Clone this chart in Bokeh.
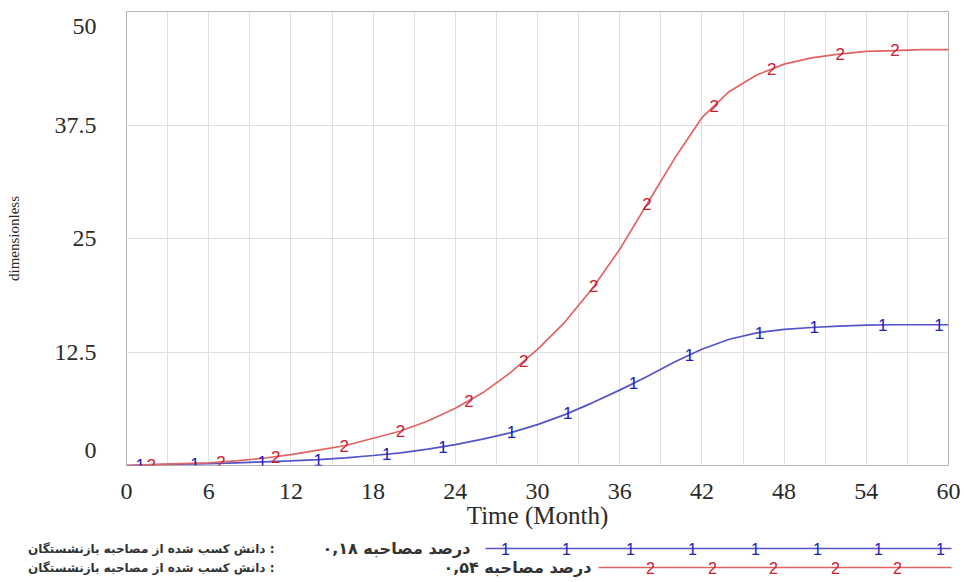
import numpy as np
from bokeh.plotting import figure
from bokeh.models import Range1d, FixedTicker
from bokeh.core.properties import value
from bokeh.embed import file_html
from bokeh.resources import INLINE

# ---------------- data ----------------
months = list(range(0, 61, 2))
knowledge_018 = [0.0, 0.1, 0.15, 0.2, 0.3, 0.4, 0.5, 0.65, 0.85, 1.1, 1.4, 1.8, 2.3, 2.9,
                 3.6, 4.5, 5.6, 6.9, 8.3, 9.8, 11.4, 12.8, 13.9, 14.6, 15.0, 15.2, 15.35,
                 15.45, 15.5, 15.5, 15.5]
knowledge_054 = [0.0, 0.1, 0.2, 0.3, 0.5, 0.8, 1.2, 1.7, 2.2, 3.0, 3.8, 4.9, 6.3, 8.0,
                 10.2, 12.8, 15.8, 19.5, 23.8, 28.8, 33.8, 38.3, 41.2, 43.0, 44.2, 44.9,
                 45.3, 45.6, 45.7, 45.8, 45.8]
marker_t_018 = [1.0, 5.0, 9.9, 14.0, 19.0, 23.1, 28.1, 32.2, 37.0, 41.1, 46.2, 50.2, 55.2, 59.3]
marker_t_054 = [1.8, 6.9, 10.9, 15.9, 20.0, 25.0, 29.0, 34.1, 38.0, 42.9, 47.1, 52.1, 56.1]
x_ticks = [0, 6, 12, 18, 24, 30, 36, 42, 48, 54, 60]
x_grid_ticks = list(range(0, 61, 3))
y_ticks = [0, 12.5, 25, 37.5, 50]
y_tick_labels = ["0", "12.5", "25", "37.5", "50"]
series_labels = ["درصد مصاحبه ۰,۱۸", "درصد مصاحبه ۰,۵۴"]
variable_name = "دانش کسب شده از مصاحبه بازنشستگان :"
series_marks = ["1", "2"]

BLUE_LINE = "#5454c8"
BLUE_TXT = "#2020b8"
RED_LINE = "#e06464"
RED_TXT = "#cc2030"
SERIF = "Liberation Serif"
TXT = "#2a2a2a"

# ---------------- main chart ----------------
p = figure(width=964, height=538, x_range=Range1d(0, 60), y_range=Range1d(0, 50),
           output_backend="svg", toolbar_location=None,
           min_border_left=126, min_border_right=16, min_border_top=11, min_border_bottom=73)
p.background_fill_color = "white"
p.border_fill_color = "white"
p.outline_line_color = "#b4b4b4"
p.outline_line_width = 1

p.xgrid.ticker = FixedTicker(ticks=x_grid_ticks)
p.ygrid.ticker = FixedTicker(ticks=y_ticks)
p.grid.grid_line_color = "#e0e0e0"
p.grid.grid_line_width = 1

# the value-axis end labels sit a little inside the frame, as in the reference
end_shift = 1.7  # in data units (about 15 px)
label_pos = [y_ticks[0] + end_shift] + y_ticks[1:-1] + [y_ticks[-1] - end_shift]
p.xaxis.ticker = FixedTicker(ticks=x_ticks)
p.yaxis.ticker = FixedTicker(ticks=label_pos)
p.yaxis.major_label_overrides = {pos: lab for pos, lab in zip(label_pos, y_tick_labels)}

for ax in (p.xaxis, p.yaxis):
    ax.axis_line_color = None
    ax.major_tick_line_color = None
    ax.minor_tick_line_color = None
    ax.major_label_text_font = SERIF
    ax.major_label_text_font_size = "24px"
    ax.major_label_text_color = TXT
    ax.axis_label_text_font = SERIF
    ax.axis_label_text_font_style = "normal"
    ax.axis_label_text_color = TXT

p.xaxis.major_label_standoff = 12
p.xaxis.axis_label = "Time (Month)"
p.xaxis.axis_label_text_font_size = "25px"
p.xaxis.axis_label_standoff = 0

p.yaxis.major_label_standoff = 24
p.yaxis.axis_label = "dimensionless"
p.yaxis.axis_label_text_font_size = "15px"
p.yaxis.axis_label_standoff = 30

p.line(months, knowledge_018, line_color=BLUE_LINE, line_width=1.7)
p.line(months, knowledge_054, line_color=RED_LINE, line_width=1.7)

my18 = np.interp(marker_t_018, months, knowledge_018)
my54 = np.interp(marker_t_054, months, knowledge_054)
p.text(x=marker_t_018, y=list(my18), text=[series_marks[0]] * len(marker_t_018),
       text_color=BLUE_TXT, text_font=value("Liberation Sans"), text_font_size="17px",
       text_align="center", text_baseline="middle")
p.text(x=marker_t_054, y=list(my54), text=[series_marks[1]] * len(marker_t_054),
       text_color=RED_TXT, text_font=value("Liberation Sans"), text_font_size="17px",
       text_align="center", text_baseline="middle")

# ---------------- legend strip ----------------
lg = figure(width=964, height=44, x_range=Range1d(0, 964), y_range=Range1d(0, 44),
            output_backend="svg", toolbar_location=None, x_axis_type=None, y_axis_type=None,
            min_border_left=0, min_border_right=0, min_border_top=0, min_border_bottom=0)
lg.grid.visible = False
lg.outline_line_color = None
lg.background_fill_color = "white"
lg.border_fill_color = "white"

row_y = [34, 15]
lg.text(x=[274, 274], y=row_y, text=[variable_name, variable_name], text_color="#333333",
        text_font=value("DejaVu Sans"), text_font_size="12px", text_font_style="bold",
        text_align="right", text_baseline="middle")
lg.text(x=[470, 591], y=row_y, text=series_labels, text_color="#333333",
        text_font=value("DejaVu Sans"), text_font_size="16px", text_font_style="bold",
        text_align="right", text_baseline="middle")

lg.segment(x0=[485], y0=[row_y[0]], x1=[951], y1=[row_y[0]], line_color=BLUE_LINE, line_width=1.7)
lg.segment(x0=[598], y0=[row_y[1]], x1=[951], y1=[row_y[1]], line_color=RED_LINE, line_width=1.7)
blue_lx = [505, 566, 630, 692, 755, 817, 878, 940]
red_lx = [650, 712, 773, 835, 897]
lg.text(x=blue_lx, y=[row_y[0]] * len(blue_lx), text=[series_marks[0]] * len(blue_lx),
        text_color=BLUE_TXT, text_font=value("Liberation Sans"), text_font_size="16px",
        text_align="center", text_baseline="middle")
lg.text(x=red_lx, y=[row_y[1]] * len(red_lx), text=[series_marks[1]] * len(red_lx),
        text_color=RED_TXT, text_font=value("Liberation Sans"), text_font_size="16px",
        text_align="center", text_baseline="middle")

open("out.html", "w").write(file_html([p, lg], INLINE))
